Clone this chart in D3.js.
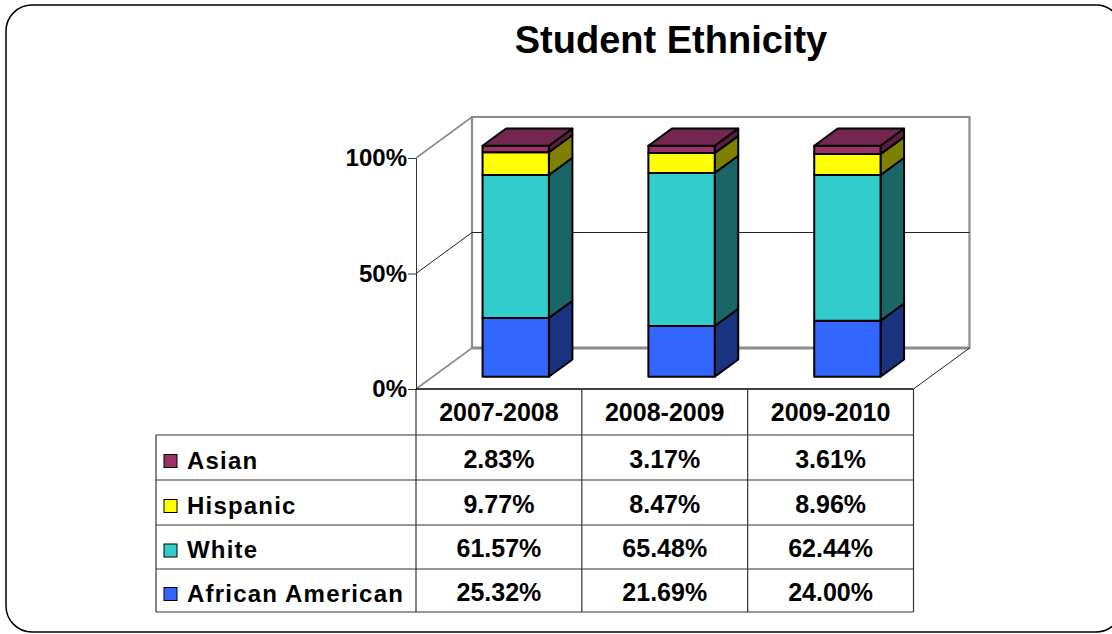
<!DOCTYPE html>
<html>
<head>
<meta charset="utf-8">
<script src="https://cdn.jsdelivr.net/npm/d3@7/dist/d3.min.js"></script>
<style>
  html, body { margin: 0; padding: 0; background: #fff; }
  svg { display: block; font-family: "Liberation Sans", Arial, sans-serif; }
</style>
</head>
<body>
<svg id="chart" width="1112" height="634"></svg>
<script>
// ---- data ----
const title = "Student Ethnicity";
const years = ["2007-2008", "2008-2009", "2009-2010"];
const seriesNames = ["African American", "White", "Hispanic", "Asian"]; // bottom to top
const africanAmerican = [25.32, 21.69, 24.00];
const white = [61.57, 65.48, 62.44];
const hispanic = [9.77, 8.47, 8.96];
const asian = [2.83, 3.17, 3.61];
const yTicks = [0, 0.5, 1];
const tableOrder = ["Asian", "Hispanic", "White", "African American"]; // table rows top to bottom

// ---- styles ----
const frontColors = { "African American": "#3366ff", "White": "#33cccc", "Hispanic": "#ffff00", "Asian": "#993366" };
const sideColors  = { "African American": "#1a3380", "White": "#1a6666", "Hispanic": "#808000", "Asian": "#5c1f3d" };
const topColors   = { "African American": "#264db3", "White": "#269999", "Hispanic": "#bfbf00", "Asian": "#732650" };

const valuesBySeries = { "African American": africanAmerican, "White": white, "Hispanic": hispanic, "Asian": asian };
const rows = years.map((yr, i) => {
  const r = { year: yr };
  seriesNames.forEach(s => r[s] = valuesBySeries[s][i]);
  return r;
});

(function draw() {
const svg = d3.select("#chart");

// outer rounded border
svg.append("rect").attr("x", 6).attr("y", 5).attr("width", 1116).attr("height", 627)
  .attr("rx", 26).attr("ry", 26).attr("fill", "#fff").attr("stroke", "#000").attr("stroke-width", 1.5);

// title
svg.append("text").attr("x", 671).attr("y", 53).attr("text-anchor", "middle")
  .attr("font-size", 38).attr("font-weight", "bold").attr("fill", "#000").text(title);

// ---- 3D projection ----
const pL = 416, pR = 913.5, pB = 389, pT = 158;
const DX = 56, DY = 41;
const x = d3.scaleBand().domain(years).range([pL, pR]).paddingInner(0).paddingOuter(0);
const y = d3.scaleLinear().domain([0, 1]).range([pB, pT]);
const P = (px, v, z) => [px + z * DX, y(v) - z * DY];
const line = d3.line();

const walls = svg.append("g");
const gray = "#8c8c8c";
walls.append("path").attr("d", line([P(pL,0,1), P(pR,0,1), P(pR,1,1), P(pL,1,1)]) + "Z")
  .attr("fill", "none").attr("stroke", gray).attr("stroke-width", 2.2);
walls.append("path").attr("d", line([P(pL,1,0), P(pL,1,1)])).attr("stroke", gray).attr("stroke-width", 1.6).attr("fill", "none");
walls.append("path").attr("d", line([P(pL,0,0), P(pL,0,1)])).attr("stroke", gray).attr("stroke-width", 1.6).attr("fill", "none");
walls.append("path").attr("d", line([P(pL,0,1), P(pR,0,1)])).attr("stroke", gray).attr("stroke-width", 3).attr("fill", "none");
walls.append("path").attr("d", line([P(pR,0,0), P(pR,0,1)])).attr("stroke", "#222").attr("stroke-width", 1).attr("fill", "none");
yTicks.filter(t => t > 0 && t < 1).forEach(t => {
  walls.append("path").attr("d", line([P(pL,t,0), P(pL,t,1), P(pR,t,1)]))
    .attr("stroke", "#222").attr("stroke-width", 1).attr("fill", "none");
});

// ---- bars ----
const stack = d3.stack().keys(seriesNames).offset(d3.stackOffsetExpand);
const stacked = stack(rows);
const bw = x.bandwidth() * 0.4;
const z0 = 0.3, z1 = 0.72;
const barsG = svg.append("g").attr("stroke", "#000").attr("stroke-width", 2).attr("stroke-linejoin", "round");

years.forEach((yr, i) => {
  const bx = x(yr) + (x.bandwidth() - bw) / 2;
  stacked.forEach((layer, li) => {
    const name = layer.key;
    const v0 = layer[i][0], v1 = layer[i][1];
    barsG.append("path")
      .attr("d", line([P(bx+bw, v1, z0), P(bx+bw, v1, z1), P(bx+bw, v0, z1), P(bx+bw, v0, z0)]) + "Z")
      .attr("fill", sideColors[name]);
    barsG.append("path")
      .attr("d", line([P(bx, v0, z0), P(bx+bw, v0, z0), P(bx+bw, v1, z0), P(bx, v1, z0)]) + "Z")
      .attr("fill", frontColors[name]);
    if (li === stacked.length - 1) {
      barsG.append("path")
        .attr("d", line([P(bx, v1, z0), P(bx+bw, v1, z0), P(bx+bw, v1, z1), P(bx, v1, z1)]) + "Z")
        .attr("fill", topColors[name]);
    }
  });
});

// ---- axis ----
const axis = d3.axisLeft(y).tickValues(yTicks).tickFormat(d3.format(".0%")).tickSize(8).tickSizeOuter(0).tickPadding(1);
const axG = svg.append("g").attr("transform", `translate(${pL},0)`).call(axis);
axG.selectAll("text").attr("font-size", 24).attr("font-weight", "bold").attr("fill", "#000")
  .attr("font-family", "'Liberation Sans', Arial, sans-serif");
axG.selectAll("line").attr("stroke", "#333");
axG.select(".domain").attr("stroke", "#333");

// ---- data table ----
const tbl = svg.append("g");
const tableLeft = 156;
const headerTop = pB, headerBottom = 435;
const rowLines = [435, 480, 525, 569, 612];
const colEdges = [pL].concat(years.map(yr => x(yr) + x.bandwidth()));
const tcol = "#333";
tbl.append("line").attr("x1", pL).attr("x2", pR).attr("y1", headerTop).attr("y2", headerTop)
  .attr("stroke", "#000").attr("stroke-width", 1.4);
rowLines.forEach(ry => tbl.append("line").attr("x1", tableLeft).attr("x2", pR).attr("y1", ry).attr("y2", ry)
  .attr("stroke", tcol).attr("stroke-width", 1.2));
colEdges.forEach(cx => tbl.append("line").attr("x1", cx).attr("x2", cx).attr("y1", headerTop).attr("y2", rowLines[rowLines.length-1])
  .attr("stroke", tcol).attr("stroke-width", 1.2));
tbl.append("line").attr("x1", tableLeft).attr("x2", tableLeft).attr("y1", rowLines[0]).attr("y2", rowLines[rowLines.length-1])
  .attr("stroke", tcol).attr("stroke-width", 1.2);

years.forEach(yr => {
  tbl.append("text").attr("x", x(yr) + x.bandwidth()/2).attr("y", (headerTop + headerBottom)/2 + 9)
    .attr("text-anchor", "middle").attr("font-size", 25).attr("font-weight", "bold").attr("fill", "#000").text(yr);
});
const fmt = d3.format(".2f");
tableOrder.forEach((name, ri) => {
  const cy = (rowLines[ri] + rowLines[ri+1]) / 2;
  tbl.append("rect").attr("x", 164).attr("y", cy - 3).attr("width", 13).attr("height", 13)
    .attr("fill", frontColors[name]).attr("stroke", "#000").attr("stroke-width", 1);
  tbl.append("text").attr("x", 187).attr("y", cy + 11).attr("font-size", 24).attr("font-weight", "bold")
    .attr("letter-spacing", 1.2).attr("fill", "#000").text(name);
  years.forEach((yr, i) => {
    tbl.append("text").attr("x", x(yr) + x.bandwidth()/2).attr("y", cy + 10)
      .attr("text-anchor", "middle").attr("font-size", 25).attr("font-weight", "bold").attr("fill", "#000")
      .text(fmt(valuesBySeries[name][i]) + "%");
  });
});
})();
</script>
</body>
</html>
